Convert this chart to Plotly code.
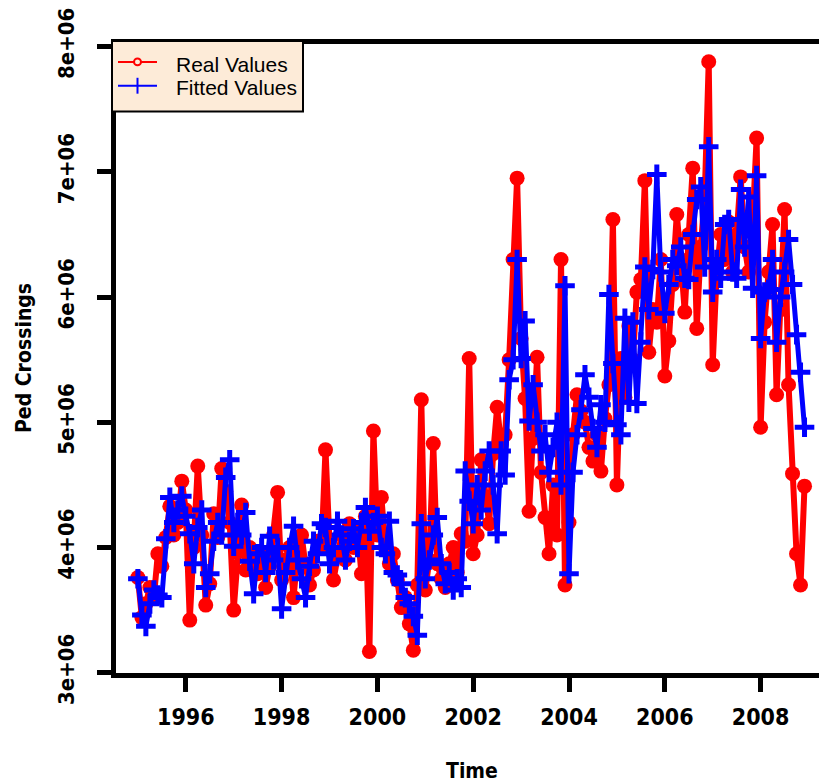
import plotly.graph_objects as go

# ---------------- data (values in millions of crossings) ----------------
start_year = 1995
months_per_year = 12

real_values = [
    # 1995
    3.76, 3.44, 3.55, 3.68, 3.60, 3.95, 3.85, 4.08, 4.33, 4.10, 4.20, 4.53,
    # 1996
    4.30, 3.42, 4.00, 4.65, 4.10, 3.54, 3.71, 4.27, 4.08, 4.63, 4.45, 4.20,
    # 1997
    3.50, 3.96, 4.34, 3.82, 4.00, 3.90, 3.79, 3.95, 3.68, 3.85, 4.10, 4.44,
    # 1998
    3.74, 3.90, 4.00, 3.60, 3.95, 4.10, 3.85, 3.70, 3.82, 4.05, 4.00, 4.78,
    # 1999
    4.05, 3.74, 3.95, 4.10, 3.90, 4.19, 4.00, 4.15, 3.79, 4.25, 3.17, 4.93,
    # 2000
    4.10, 4.40, 4.00, 3.87, 3.95, 3.74, 3.52, 3.60, 3.39, 3.18, 3.70, 5.18,
    # 2001
    3.66, 3.90, 4.83, 3.87, 3.75, 3.68, 3.87, 4.00, 3.80, 4.11, 4.05, 5.51,
    # 2002
    3.95, 4.10, 4.70, 4.40, 4.19, 4.75, 5.12, 4.82, 4.90, 5.50, 6.30, 6.95,
    # 2003
    5.67, 5.19, 4.29, 4.87, 5.52, 4.60, 4.24, 3.95, 4.50, 4.10, 6.30, 3.70,
    # 2004
    4.20, 4.90, 5.22, 5.09, 5.00, 4.80, 4.69, 4.90, 4.61, 5.03, 5.30, 6.62,
    # 2005
    4.50, 5.51, 5.20, 5.77, 5.50, 6.04, 6.14, 6.93, 5.56, 5.90, 5.80, 6.30,
    # 2006
    5.37, 5.65, 6.10, 6.66, 6.30, 5.88, 6.50, 7.03, 5.75, 6.40, 6.80, 7.88,
    # 2007
    5.46, 6.20, 6.50, 6.30, 6.60, 6.20, 6.50, 6.96, 6.40, 6.20, 6.60, 7.27,
    # 2008
    4.96, 5.80, 6.20, 6.58, 5.22, 5.90, 6.70, 5.30, 4.59, 3.95, 3.70, 4.49,
]

fitted_values = [
    # 1995
    3.75, 3.46, 3.37, 3.55, 3.66, 3.62, 3.60, 4.07, 4.40, 4.20, 4.30, 4.41,
    # 1996
    4.25, 4.11, 3.87, 4.16, 4.30, 3.68, 3.79, 4.05, 4.20, 4.10, 4.56, 4.70,
    # 1997
    4.01, 4.20, 4.10, 4.28, 3.89, 3.63, 3.95, 4.00, 3.80, 4.09, 3.90, 4.00,
    # 1998
    3.51, 3.80, 4.00, 4.17, 3.90, 3.75, 3.60, 3.85, 4.05, 3.95, 4.19, 4.16,
    # 1999
    3.87, 4.00, 4.21, 4.10, 3.90, 4.05, 4.15, 4.00, 4.20, 4.32, 4.13, 4.20,
    # 2000
    4.25, 4.00, 3.95, 4.21, 3.80, 3.78, 3.71, 3.60, 3.55, 3.45, 3.30, 4.19,
    # 2001
    3.75, 3.90, 4.10, 4.24, 3.87, 3.71, 3.80, 3.66, 3.75, 3.68, 4.61, 4.37,
    # 2002
    4.19, 4.50, 4.30, 4.61, 4.77, 4.50, 4.11, 4.77, 4.58, 5.34, 5.50, 6.30,
    # 2003
    5.51, 5.81, 5.01, 5.30, 5.00, 4.77, 4.90, 4.60, 4.80, 5.00, 4.50, 6.09,
    # 2004
    3.79, 4.60, 4.90, 5.10, 5.38, 5.20, 4.95, 4.80, 5.14, 5.00, 6.02, 5.47,
    # 2005
    4.98, 4.90, 5.83, 5.16, 5.80, 5.15, 5.64, 6.24, 5.90, 6.22, 6.98, 6.20,
    # 2006
    5.87, 6.10, 6.30, 6.25, 6.40, 6.15, 6.14, 6.50, 6.78, 6.88, 6.24, 7.20,
    # 2007
    6.04, 6.30, 6.15, 6.58, 6.62, 6.20, 6.15, 6.86, 6.40, 6.80, 6.07, 6.97,
    # 2008
    5.67, 6.04, 6.06, 6.30, 5.64, 6.00, 6.20, 6.46, 6.10, 5.70, 5.40, 4.96,
]

x_tick_values = [1996, 1998, 2000, 2002, 2004, 2006, 2008]
x_tick_labels = ["1996", "1998", "2000", "2002", "2004", "2006", "2008"]
y_tick_values = [3e6, 4e6, 5e6, 6e6, 7e6, 8e6]
y_tick_labels = ["3e+06", "4e+06", "5e+06", "6e+06", "7e+06", "8e+06"]

series_names = ["Real Values", "Fitted Values"]
x_title = "Time"
y_title = "Ped Crossings"

# monthly time index (R ts style)
time = [start_year + i / months_per_year for i in range(len(real_values))]
real_y = [v * 1e6 for v in real_values]
fitted_y = [v * 1e6 for v in fitted_values]

# ---------------- figure geometry ----------------
PAGE_W, PAGE_H = 827, 784
O = 8                       # page body margin of the html output
W, H = PAGE_W - O, PAGE_H - O
L, R, T, B = 116 - O, 0, 40 - O, H - (673 - O)
PW, PH = W - L - R, H - T - B


def px_x(px):
    """page pixel x -> paper coordinate"""
    return (px - O - L) / PW


def px_y(py):
    """page pixel y -> paper coordinate"""
    return (H - B - (py - O)) / PH


AXFONT = "DejaVu Sans Condensed, Liberation Sans Narrow, Arial Narrow, sans-serif"

fig = go.Figure()
fig.add_trace(go.Scatter(
    x=time, y=real_y, name=series_names[0], mode="lines+markers",
    line=dict(color="#FF0000", width=6),
    marker=dict(symbol="circle", size=15, color="#FF0000", line=dict(width=0)),
    showlegend=False,
))
fig.add_trace(go.Scatter(
    x=time, y=fitted_y, name=series_names[1], mode="lines+markers",
    line=dict(color="#0000FF", width=5),
    marker=dict(symbol="cross-thin", size=14, color="#0000FF",
                line=dict(width=5, color="#0000FF")),
    showlegend=False,
))

fig.update_layout(
    width=W, height=H,
    margin=dict(l=L, r=R, t=T, b=B),
    plot_bgcolor="white", paper_bgcolor="white",
    showlegend=False,
    xaxis=dict(
        range=[1994.543, 2009.386],
        tickvals=x_tick_values, ticktext=x_tick_labels,
        ticks="outside", ticklen=14, tickwidth=5, tickcolor="black",
        showline=True, linewidth=5, linecolor="black", mirror=True,
        showgrid=False, zeroline=False,
        tickfont=dict(family=AXFONT, size=23, color="black", weight="bold"),
        ticklabelstandoff=5,
        ticklabeloverflow="allow",
    ),
    yaxis=dict(
        range=[2.9976e6, 8.0214e6],
        tickvals=y_tick_values, ticktext=y_tick_labels,
        tickangle=-90,
        ticks="outside", ticklen=14, tickwidth=5, tickcolor="black",
        showline=True, linewidth=5, linecolor="black", mirror=False,
        showgrid=False, zeroline=False,
        tickfont=dict(family=AXFONT, size=22, color="black", weight="bold"),
        ticklabelstandoff=14,
        ticklabeloverflow="allow",
    ),
)

# axis titles
fig.add_annotation(text=x_title, xref="paper", yref="paper",
                   x=px_x(472), y=px_y(772), xanchor="center", yanchor="middle",
                   showarrow=False,
                   font=dict(family=AXFONT, size=21, color="black", weight="bold"))
fig.add_annotation(text=y_title, xref="paper", yref="paper",
                   x=px_x(24), y=px_y(356), xanchor="center", yanchor="middle",
                   textangle=-90, showarrow=False,
                   font=dict(family=AXFONT, size=21, color="black", weight="bold"))

# legend box (drawn manually to match the R legend)
LEG_FONT = "Liberation Sans, Arial, sans-serif"
LEG_BG = "#FDEBD8"
fig.add_shape(type="rect", xref="paper", yref="paper",
              x0=px_x(112), x1=px_x(303), y0=px_y(108), y1=px_y(37),
              fillcolor=LEG_BG, line=dict(color="black", width=2), layer="above")
# Real Values symbol
fig.add_shape(type="line", xref="paper", yref="paper",
              x0=px_x(118), x1=px_x(157), y0=px_y(58), y1=px_y(58),
              line=dict(color="#FF0000", width=2), layer="above")
fig.add_shape(type="circle", xref="paper", yref="paper",
              x0=px_x(134), x1=px_x(141), y0=px_y(61.5), y1=px_y(54.5),
              fillcolor=LEG_BG, line=dict(color="#FF0000", width=2), layer="above")
# Fitted Values symbol
fig.add_shape(type="line", xref="paper", yref="paper",
              x0=px_x(118), x1=px_x(157), y0=px_y(82), y1=px_y(82),
              line=dict(color="#0000FF", width=2), layer="above")
fig.add_shape(type="line", xref="paper", yref="paper",
              x0=px_x(137.5), x1=px_x(137.5), y0=px_y(90), y1=px_y(74),
              line=dict(color="#0000FF", width=2), layer="above")
fig.add_annotation(text=series_names[0], xref="paper", yref="paper",
                   x=px_x(174), y=px_y(61), xanchor="left", yanchor="middle",
                   showarrow=False, font=dict(family=LEG_FONT, size=21, color="black"))
fig.add_annotation(text=series_names[1], xref="paper", yref="paper",
                   x=px_x(174), y=px_y(84), xanchor="left", yanchor="middle",
                   showarrow=False, font=dict(family=LEG_FONT, size=21, color="black"))

fig.write_html("out.html")
